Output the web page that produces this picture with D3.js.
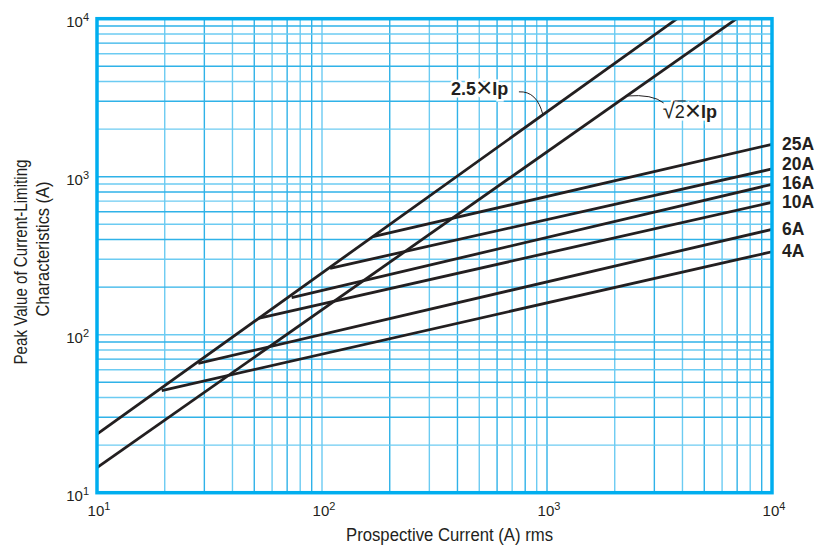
<!DOCTYPE html>
<html>
<head>
<meta charset="utf-8">
<script src="https://cdn.jsdelivr.net/npm/d3@7"></script>
<style>
  body { margin: 0; background: #fff; }
  text { font-family: 'Liberation Sans', Arial, sans-serif; fill: #231f20; }
</style>
</head>
<body>
<svg width="829" height="547"></svg>
<script>
// axis decades (both axes run 10^1 .. 10^4)
const xDecades = [10, 100, 1000, 10000];
const yDecades = [10, 100, 1000, 10000];
const decadeExponents = ['1', '2', '3', '4'];

// the two peak-current reference lines: [x, y] at both ends
const refNames = ['2.5', 'sqrt2'];
const refStart = [[10, 23.5], [10, 14.4]];
const refEnd = [[3790, 10000], [6970, 10000]];
// where each leader line touches its reference line (x value)
const refLeaderX = [959, 2259];

// fuse ratings: knee point on the 2.5 line, then value at 10^4 A
const fuseRatings = ['25A', '20A', '16A', '10A', '6A', '4A'];
const fuseStartX = [168.5, 108.6, 73.3, 52.1, 28.2, 19.4];
const fuseStartY = [417, 263, 171.5, 127, 65.9, 44.3];
const fuseEndY = [1603, 1119, 895, 689, 464, 335];

function createChart() {
  const left = 97;
  const top = 18.7;
  const right = 772;
  const bottom = 492.7;

  const svg = d3.select('svg');

  const xScale = d3.scaleLog()
      .domain([xDecades[0], xDecades[xDecades.length - 1]])
      .range([left, right]);
  const yScale = d3.scaleLog()
      .domain([yDecades[0], yDecades[yDecades.length - 1]])
      .range([bottom, top]);

  // grid: 1..9 in every decade
  const gridValues = [];
  xDecades.slice(0, -1).forEach(d => {
    for (let k = 1; k < 10; k++) gridValues.push(k * d);
  });
  gridValues.push(10000);

  const grid = svg.append('g').attr('class', 'grid');
  grid.selectAll('line.v')
      .data(gridValues)
      .enter().append('line')
      .attr('class', 'v')
      .attr('x1', d => xScale(d))
      .attr('x2', d => xScale(d))
      .attr('y1', top)
      .attr('y2', bottom)
      .attr('stroke', (d, i) => i % 2 ? '#6ccbf2' : '#2fb2e8')
      .attr('stroke-width', 1.4);
  grid.selectAll('line.h')
      .data(gridValues)
      .enter().append('line')
      .attr('class', 'h')
      .attr('y1', d => yScale(d))
      .attr('y2', d => yScale(d))
      .attr('x1', left)
      .attr('x2', right)
      .attr('stroke', (d, i) => i % 2 ? '#6ccbf2' : '#2fb2e8')
      .attr('stroke-width', 1.4);

  const line = d3.line()
      .x(d => xScale(d[0]))
      .y(d => yScale(d[1]));

  const plot = svg.append('g').attr('class', 'plot');

  // fuse lines
  fuseRatings.forEach((name, i) => {
    plot.append('path')
        .attr('d', line([[fuseStartX[i], fuseStartY[i]], [10000, fuseEndY[i]]]))
        .attr('fill', 'none')
        .attr('stroke', '#231f20')
        .attr('stroke-width', 2.8);
  });

  // reference lines
  refNames.forEach((name, i) => {
    plot.append('path')
        .attr('d', line([refStart[i], refEnd[i]]))
        .attr('fill', 'none')
        .attr('stroke', '#231f20')
        .attr('stroke-width', 2.8);
  });

  // frame
  svg.append('rect')
      .attr('x', left)
      .attr('y', top)
      .attr('width', right - left)
      .attr('height', bottom - top)
      .attr('fill', 'none')
      .attr('stroke', '#00aeef')
      .attr('stroke-width', 3.5);

  // annotations for the reference lines
  const refPoint = i => {
    const lx = Math.log10(refLeaderX[i]);
    const x0 = Math.log10(refStart[i][0]);
    const y0 = Math.log10(refStart[i][1]);
    const x1 = Math.log10(refEnd[i][0]);
    const y1 = Math.log10(refEnd[i][1]);
    const ly = y0 + (y1 - y0) * (lx - x0) / (x1 - x0);
    return [xScale(refLeaderX[i]), yScale(Math.pow(10, ly))];
  };

  const p0 = refPoint(0);
  svg.append('path')
      .attr('d', `M${p0[0] - 24},${p0[1] - 23} Q${p0[0] - 6},${p0[1] - 24} ${p0[0]},${p0[1]}`)
      .attr('fill', 'none')
      .attr('stroke', '#231f20')
      .attr('stroke-width', 1);
  const label0 = svg.append('text')
      .attr('x', p0[0] - 92)
      .attr('y', p0[1] - 20)
      .attr('font-size', 18)
      .attr('font-weight', 'bold')
      .style('paint-order', 'stroke')
      .attr('stroke', '#fff')
      .attr('stroke-width', 5);
  label0.append('tspan').text('2.5');
  label0.append('tspan').attr('font-weight', 'normal').attr('font-size', 28).attr('dy', 2).text('×');
  label0.append('tspan').attr('dy', -2).text('Ip');

  const p1 = refPoint(1);
  svg.append('path')
      .attr('d', `M${p1[0]},${p1[1]} Q${p1[0] + 26},${p1[1] - 2} ${p1[0] + 37},${p1[1] + 7}`)
      .attr('fill', 'none')
      .attr('stroke', '#231f20')
      .attr('stroke-width', 1);
  const label1 = svg.append('text')
      .attr('x', p1[0] + 36)
      .attr('y', p1[1] + 22)
      .attr('font-size', 18)
      .attr('font-weight', 'bold')
      .style('paint-order', 'stroke')
      .attr('stroke', '#fff')
      .attr('stroke-width', 5);
  label1.append('tspan').attr('font-weight', 'normal').attr('font-size', 22).text('√');
  label1.append('tspan').attr('font-weight', 'normal').text('2');
  label1.append('tspan').attr('font-weight', 'normal').attr('font-size', 28).attr('dy', 2).text('×');
  label1.append('tspan').attr('dy', -2).text('Ip');
  // bar of the root sign over the 2
  svg.append('line')
      .attr('x1', p1[0] + 48)
      .attr('x2', p1[0] + 59)
      .attr('y1', p1[1] + 5)
      .attr('y2', p1[1] + 5)
      .attr('stroke', '#231f20')
      .attr('stroke-width', 1);

  // fuse rating labels, pushed apart so they do not collide
  const labelY = fuseEndY.map(v => yScale(v) + 5.5);
  for (let i = labelY.length - 2; i >= 0; i--) {
    labelY[i] = Math.min(labelY[i], labelY[i + 1] - 19);
  }
  svg.selectAll('text.rating')
      .data(fuseRatings)
      .enter().append('text')
      .attr('class', 'rating')
      .attr('x', right + 10)
      .attr('y', (d, i) => labelY[i])
      .attr('font-size', 17.5)
      .attr('font-weight', 'bold')
      .text(d => d);

  // tick labels
  const xTick = svg.selectAll('text.xtick')
      .data(xDecades)
      .enter().append('text')
      .attr('class', 'xtick')
      .attr('x', d => xScale(d) + 2)
      .attr('y', 516)
      .attr('text-anchor', 'middle')
      .attr('font-size', 15);
  xTick.append('tspan').text('10');
  xTick.append('tspan')
      .attr('font-size', 11)
      .attr('dy', -6)
      .text((d, i) => decadeExponents[i]);

  const yTick = svg.selectAll('text.ytick')
      .data(yDecades)
      .enter().append('text')
      .attr('class', 'ytick')
      .attr('x', 89)
      .attr('y', d => yScale(d) + 8)
      .attr('text-anchor', 'end')
      .attr('font-size', 15);
  yTick.append('tspan').text('10');
  yTick.append('tspan')
      .attr('font-size', 11)
      .attr('dy', -6)
      .text((d, i) => decadeExponents[i]);

  // axis titles
  svg.append('text')
      .attr('x', (left + right) / 2 + 15)
      .attr('y', 541)
      .attr('text-anchor', 'middle')
      .attr('font-size', 17.5)
      .attr('textLength', 207)
      .attr('lengthAdjust', 'spacingAndGlyphs')
      .text('Prospective Current (A) rms');

  svg.append('text')
      .attr('transform', 'translate(27, 262) rotate(-90)')
      .attr('text-anchor', 'middle')
      .attr('font-size', 17.5)
      .attr('textLength', 205)
      .attr('lengthAdjust', 'spacingAndGlyphs')
      .text('Peak Value of Current-Limiting');
  svg.append('text')
      .attr('transform', 'translate(49, 249) rotate(-90)')
      .attr('text-anchor', 'middle')
      .attr('font-size', 17.5)
      .attr('textLength', 135)
      .attr('lengthAdjust', 'spacingAndGlyphs')
      .text('Characteristics (A)');
}

createChart();
</script>
</body>
</html>
